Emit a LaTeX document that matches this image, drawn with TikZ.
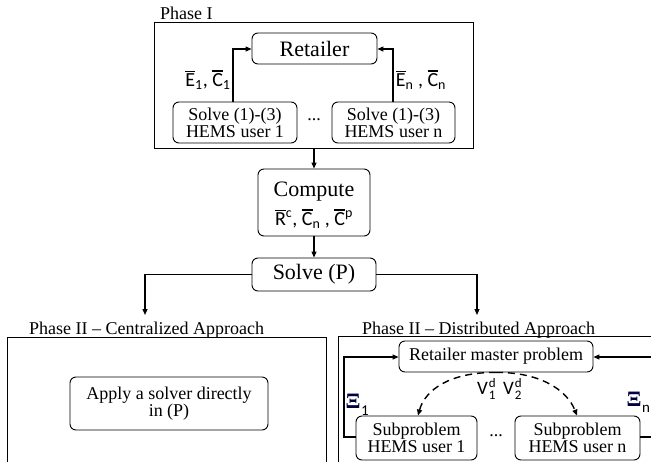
\documentclass[tikz,border=0pt]{standalone}
\usepackage{fontspec}
\setmainfont{Liberation Serif}
\newfontfamily\calib{Carlito}
\usetikzlibrary{arrows.meta}
\newcommand\ob[1]{\setbox0\hbox{#1}\rlap{\raisebox{\dimexpr\ht0+2pt\relax}{\rule{\wd0}{1.1pt}}}\box0}
\begin{document}
\begin{tikzpicture}[x=1pt,y=-1pt,
  box/.style={draw,line width=0.9pt,rounded corners=6pt,align=center,inner sep=0pt,font=\fontsize{18}{17}\selectfont},
  bigbox/.style={box,font=\fontsize{22}{22}\selectfont},
  frame/.style={draw,line width=0.9pt},
  lbl/.style={font=\fontsize{18}{18}\selectfont,inner sep=0pt,anchor=base west},
  conn/.style={line width=1.2pt,-{Triangle[length=6pt,width=5pt]}},
  plain/.style={line width=1.2pt},
  dconn/.style={line width=1.4pt,dash pattern=on 7pt off 5pt,-{Triangle[length=6pt,width=5pt]}},
  math/.style={font=\calib\fontsize{20}{20}\selectfont,inner sep=0pt},
  vsym/.style={font=\calib\fontsize{19}{19}\selectfont,inner sep=0pt,anchor=base west},
  vidx/.style={font=\calib\fontsize{13}{13}\selectfont,inner sep=0pt,anchor=base west},
  xi/.style={font=\bfseries\fontsize{22}{22}\selectfont,text=blue!25!black,inner sep=0pt}]
\useasboundingbox (0,0) rectangle (651,461);
\clip (0,0) rectangle (651,461);
% Phase I
\node[lbl] (p1lbl) at (160,19) {Phase I};
\draw[frame] (154,22) rectangle (473,148);
\node[bigbox,minimum width=125pt,minimum height=31pt] (ret) at (314.5,48.5) {Retailer};
\node[box,minimum width=124pt,minimum height=41pt] (s1) at (235,122.5) {Solve (1)-(3)\\HEMS user 1};
\node[box,minimum width=123pt,minimum height=41pt] (sn) at (393.5,122.5) {Solve (1)-(3)\\HEMS user n};
\node[font=\fontsize{18}{18}\selectfont,inner sep=0pt] (dots1) at (314,120) {...};
\coordinate (p1b) at (314,148);
\draw[conn] (s1.north -| 233,0) |- (ret.west |- 0,49);
\draw[conn] (sn.north -| 393,0) |- (ret.east |- 0,49);
\node[math] (lab1) at (208,80) {\ob{E}\textsubscript{1}, \ob{C}\textsubscript{1}};
\node[math] (labn) at (421,80) {\ob{E}\textsubscript{n} , \ob{C}\textsubscript{n}};
% Compute
\node[box,minimum width=112pt,minimum height=67pt] (comp) at (314,202.5) {};
\node[inner sep=0pt,font=\fontsize{22}{22}\selectfont] (comptxt) at (314,192) {Compute};
\node[math] (complbl) at (314,219) {\ob{R}\textsuperscript{c}, \ob{C}\textsubscript{n} , \ob{C}\textsuperscript{p}};
\draw[conn] (p1b) -- (comp.north);
\node[bigbox,minimum width=124pt,minimum height=33pt] (solp) at (314,274.5) {Solve (P)};
\draw[conn] (comp.south) -- (solp.north);
\coordinate (ca) at (145,315);
\coordinate (da) at (477,315);
\draw[conn] (solp.west) -| (ca);
\draw[conn] (solp.east) -| (da);
% Phase II centralized
\node[lbl] (p2c) at (29,334) {Phase II -- Centralized Approach};
\draw[frame] (7,337) rectangle (326,480);
\node[box,minimum width=198pt,minimum height=53pt] (apply) at (169,403.5) {Apply a solver directly\\in (P)};
% Phase II distributed
\node[lbl] (p2d) at (362,334) {Phase II -- Distributed Approach};
\draw[frame] (338,336) rectangle (700,480);
\node[box,minimum width=194pt,minimum height=31pt] (rmp) at (496,356.5) {Retailer master problem};
\node[box,minimum width=121pt,minimum height=44pt] (sub1) at (416.5,438) {Subproblem\\HEMS user 1};
\node[box,minimum width=125pt,minimum height=44pt] (subn) at (577.5,438) {Subproblem\\HEMS user n};
\node[font=\fontsize{18}{18}\selectfont,inner sep=0pt] (dots2) at (496,436) {...};
\coordinate (rloop) at (670,437);
\coordinate (rloop2) at (670,357);
\draw[conn] (sub1.west |- 0,437) -| (344,357) -- (rmp.west |- 0,357);
\draw[plain] (subn.east |- 0,437) -- (rloop) -- (rloop2);
\draw[conn] (rloop2) -- (rmp.east |- 0,357);
\draw[dconn] (rmp.south) .. controls (450,372) and (425,390) .. (sub1.north -| 418,0);
\draw[dconn] (rmp.south) .. controls (540,372) and (567,390) .. (subn.north -| 577,0);
\node[vsym] (v1) at (477,394) {V};
\node[vidx] (v1d) at ([xshift=0.5pt,yshift=7pt]v1.base east) {d};
\node[vidx] (v1s) at ([xshift=0.5pt,yshift=-5pt]v1.base east) {1};
\node[vsym] (v2) at (503,394) {V};
\node[vidx] (v2d) at ([xshift=0.5pt,yshift=7pt]v2.base east) {d};
\node[vidx] (v2s) at ([xshift=0.5pt,yshift=-5pt]v2.base east) {2};
\node[xi] (xi1) at (353,401) {Ξ};
\node[math,font=\calib\fontsize{15}{15}\selectfont] (xi1s) at (365,411) {1};
\node[xi] (xin) at (634,399) {Ξ};
\node[math,font=\calib\fontsize{15}{15}\selectfont] (xins) at (646,409) {n};
\end{tikzpicture}
\end{document}
